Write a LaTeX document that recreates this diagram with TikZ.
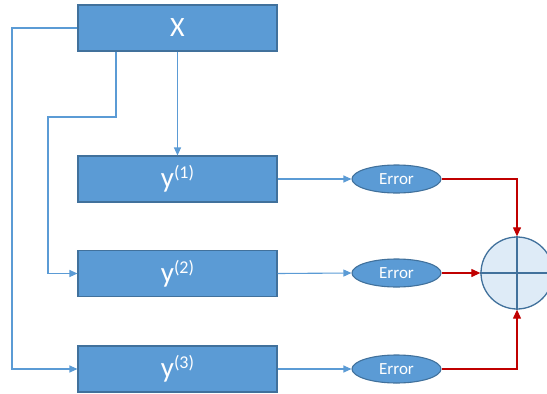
\documentclass[tikz,border=0pt]{standalone}
\usepackage{fontspec}
\setmainfont{Carlito}
\usetikzlibrary{arrows.meta,shapes.geometric}
\definecolor{boxfill}{HTML}{5B9BD5}
\definecolor{boxedge}{HTML}{41719C}
\definecolor{wire}{HTML}{5B9BD5}
\definecolor{errwire}{HTML}{C00000}
\definecolor{sumfill}{HTML}{DEEBF7}
\tikzset{
  blockbox/.style={draw=boxedge, line width=1.1pt, fill=boxfill, text=white,
    minimum width=199pt, minimum height=46pt, inner sep=0pt},
  errnode/.style={ellipse, draw=boxedge, line width=1.1pt, fill=boxfill, text=white,
    minimum width=89pt, minimum height=28pt, inner sep=0pt, font=\fontsize{17}{17}\selectfont},
  sumnode/.style={circle, draw=boxedge, line width=1.3pt, fill=sumfill,
    minimum size=72pt, inner sep=0pt},
  feed/.style={draw=wire, line width=1.1pt, -{Triangle[width=7pt,length=8pt]}},
  errflow/.style={draw=errwire, line width=1.2pt, -{Triangle[width=8pt,length=9pt]}},
  yfont/.style={font=\fontsize{29}{29}\selectfont}
}
\newcommand{\ylabel}[1]{y\raisebox{0.3em}{\fontsize{18}{18}\selectfont(#1)}}
\begin{document}
\begin{tikzpicture}[x=1pt, y=-1pt]
  \useasboundingbox (0,0) rectangle (547,394);
  \clip (0,0) rectangle (547,394);
  % blocks
  \node[blockbox, font=\fontsize{28}{28}\selectfont] (X) at (177.5,28) {X};
  \node[blockbox, yfont] (y1) at (177.5,179) {\ylabel{1}};
  \node[blockbox, yfont] (y2) at (177.5,273.5) {\ylabel{2}};
  \node[blockbox, yfont] (y3) at (177.5,369) {\ylabel{3}};
  % error terms
  \node[errnode] (e1) at (396.5,179) {Error};
  \node[errnode] (e2) at (396.5,273) {Error};
  \node[errnode] (e3) at (396.5,369) {Error};
  % summation junction
  \node[sumnode] (s) at (517,273) {};
  \draw[boxedge, line width=1.3pt] (s.north) -- (s.south) (s.west) -- (s.east);
  % feeds from X
  \draw[feed] (X.south) -- (y1.north);
  \draw[feed] (X.south) ++(-61.5,0) |- (48,117) |- (y2.west);
  \draw[feed] (X.west) -| (12,200) |- (y3.west);
  % predictions to errors
  \draw[feed] (y1.east) -- (e1.west);
  \draw[feed] (y2.east) -- (e2.west);
  \draw[feed] (y3.east) -- (e3.west);
  % errors to sum
  \draw[errflow] (e1.east) -| (s.north);
  \draw[errflow] (e2.east) -- (s.west);
  \draw[errflow] (e3.east) -| (s.south);
\end{tikzpicture}
\end{document}
